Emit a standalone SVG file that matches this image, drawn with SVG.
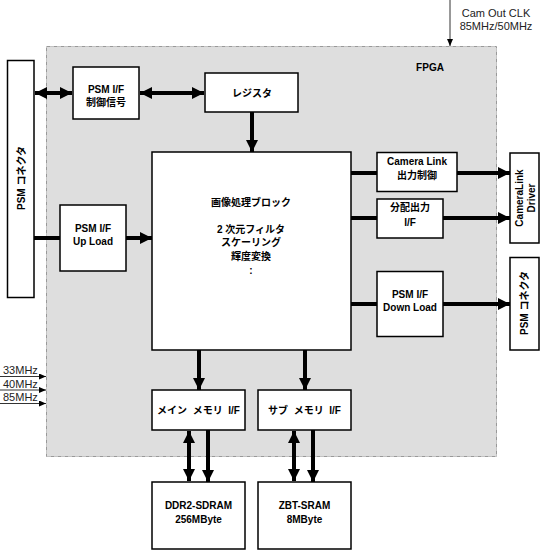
<svg xmlns="http://www.w3.org/2000/svg" width="550" height="550" viewBox="0 0 550 550">
<style>
.box{fill:#fff;stroke:#000;stroke-width:1.5}
.t{font-family:"Liberation Sans","Noto Sans CJK JP",sans-serif;font-size:10px;font-weight:bold;text-anchor:middle;fill:#000}
.r{font-family:"Liberation Sans",sans-serif;font-size:11px;fill:#222}
.thick{stroke:#000;stroke-width:4;fill:none}
.thin{stroke:#333;stroke-width:1;fill:none}
</style>
<defs>
<marker id="ah" viewBox="0 0 12 12" refX="12" refY="6" markerWidth="12" markerHeight="12" markerUnits="userSpaceOnUse" orient="auto-start-reverse">
<path d="M0,0 L12,6 L0,12 z" fill="#000"/>
</marker>
<marker id="sh" viewBox="0 0 7 6" refX="7" refY="3" markerWidth="7" markerHeight="6" markerUnits="userSpaceOnUse" orient="auto">
<path d="M0,0 L7,3 L0,6 z" fill="#000"/>
</marker>
</defs>
<rect width="550" height="550" fill="#fff"/>
<g id="fpga">
<rect x="46.5" y="46.5" width="450" height="410" fill="#dedede" stroke="#999" stroke-width="1" stroke-dasharray="4 1 1 1"/>
<text class="t" x="430" y="71" font-size="11">FPGA</text>
</g>
<g id="connectors">
<line class="thick" x1="35" y1="93" x2="72" y2="93" marker-start="url(#ah)" marker-end="url(#ah)"/>
<line class="thick" x1="140" y1="93" x2="204" y2="93" marker-start="url(#ah)" marker-end="url(#ah)"/>
<line class="thick" x1="252" y1="112" x2="252" y2="152" marker-end="url(#ah)"/>
<line class="thick" x1="34" y1="238" x2="60" y2="238"/>
<line class="thick" x1="126" y1="238" x2="152" y2="238" marker-end="url(#ah)"/>
<line class="thick" x1="351" y1="173" x2="377" y2="173"/>
<line class="thick" x1="351" y1="218" x2="377" y2="218"/>
<line class="thick" x1="351" y1="304" x2="377" y2="304"/>
<line class="thick" x1="457" y1="173" x2="510" y2="173" marker-end="url(#ah)"/>
<line class="thick" x1="443" y1="218" x2="510" y2="218" marker-end="url(#ah)"/>
<line class="thick" x1="443" y1="304" x2="510" y2="304" marker-end="url(#ah)"/>
<line class="thick" x1="199" y1="350" x2="199" y2="390" marker-end="url(#ah)"/>
<line class="thick" x1="305" y1="350" x2="305" y2="390" marker-end="url(#ah)"/>
<line class="thick" x1="189" y1="431" x2="189" y2="481" marker-start="url(#ah)" marker-end="url(#ah)"/>
<line class="thick" x1="208" y1="430" x2="208" y2="482" marker-end="url(#ah)"/>
<line class="thick" x1="294" y1="431" x2="294" y2="481" marker-start="url(#ah)" marker-end="url(#ah)"/>
<line class="thick" x1="313" y1="430" x2="313" y2="482" marker-end="url(#ah)"/>
<line class="thin" x1="450" y1="0" x2="450" y2="46" marker-end="url(#sh)"/>
<line class="thin" x1="0" y1="376.5" x2="46" y2="376.5" marker-end="url(#sh)"/>
<line class="thin" x1="0" y1="390" x2="46" y2="390" marker-end="url(#sh)"/>
<line class="thin" x1="0" y1="403.5" x2="46" y2="403.5" marker-end="url(#sh)"/>
</g>
<g id="clk-labels">
<text class="r" x="496" y="17" text-anchor="middle">Cam Out CLK</text>
<text class="r" x="496" y="30" text-anchor="middle">85MHz/50MHz</text>
<text class="r" x="3" y="374">33MHz</text>
<text class="r" x="3" y="388">40MHz</text>
<text class="r" x="3" y="401">85MHz</text>
</g>
<g id="psm-conn-left">
<rect class="box" x="7.5" y="60.5" width="26.5" height="237"/>
<text class="t" transform="translate(24.5,178) rotate(-90)">PSM コネクタ</text>
</g>
<g id="psm-ctrl">
<rect class="box" x="73" y="67" width="66" height="52"/>
<text class="t" x="106" y="93">PSM I/F</text>
<text class="t" x="106" y="106">制御信号</text>
</g>
<g id="register">
<rect class="box" x="205" y="73" width="93" height="39"/>
<text class="t" x="252" y="96.5">レジスタ</text>
</g>
<g id="psm-up">
<rect class="box" x="60" y="205" width="66" height="66"/>
<text class="t" x="93" y="231.5">PSM I/F</text>
<text class="t" x="93" y="245">Up Load</text>
</g>
<g id="main">
<rect class="box" x="152" y="152" width="199" height="198"/>
<text class="t" x="251" y="206">画像処理ブロック</text>
<text class="t" x="251" y="232.5">2 次元フィルタ</text>
<text class="t" x="251" y="245.5">スケーリング</text>
<text class="t" x="251" y="259.5">輝度変換</text>
<text class="t" x="251" y="274">:</text>
</g>
<g id="cl-out">
<rect class="box" x="377" y="152.5" width="80" height="39"/>
<text class="t" x="417" y="164.5">Camera Link</text>
<text class="t" x="417" y="178.5">出力制御</text>
</g>
<g id="dist-out">
<rect class="box" x="377" y="199" width="66" height="39"/>
<text class="t" x="410" y="210.5">分配出力</text>
<text class="t" x="410" y="226">I/F</text>
</g>
<g id="psm-down">
<rect class="box" x="377" y="271.5" width="66" height="65"/>
<text class="t" x="410" y="297.5">PSM I/F</text>
<text class="t" x="410" y="310.5">Down Load</text>
</g>
<g id="cl-driver">
<rect class="box" x="510" y="153" width="29" height="90"/>
<text class="t" transform="translate(523,198) rotate(-90)">CameraLink</text>
<text class="t" transform="translate(534.5,198) rotate(-90)">Driver</text>
</g>
<g id="psm-conn-right">
<rect class="box" x="510" y="257.5" width="29" height="92.5"/>
<text class="t" transform="translate(528,303) rotate(-90)">PSM コネクタ</text>
</g>
<g id="main-mem-if">
<rect class="box" x="152" y="390" width="93" height="40"/>
<text class="t" x="198.5" y="414" xml:space="preserve">メイン  メモリ  I/F</text>
</g>
<g id="sub-mem-if">
<rect class="box" x="258" y="390" width="93" height="40"/>
<text class="t" x="304.5" y="414" xml:space="preserve">サブ  メモリ  I/F</text>
</g>
<g id="ddr2">
<rect class="box" x="152" y="482" width="93" height="67"/>
<text class="t" x="198.5" y="509">DDR2-SDRAM</text>
<text class="t" x="198.5" y="523">256MByte</text>
</g>
<g id="zbt">
<rect class="box" x="258" y="482" width="93" height="67"/>
<text class="t" x="304.5" y="509">ZBT-SRAM</text>
<text class="t" x="304.5" y="523">8MByte</text>
</g>
</svg>
